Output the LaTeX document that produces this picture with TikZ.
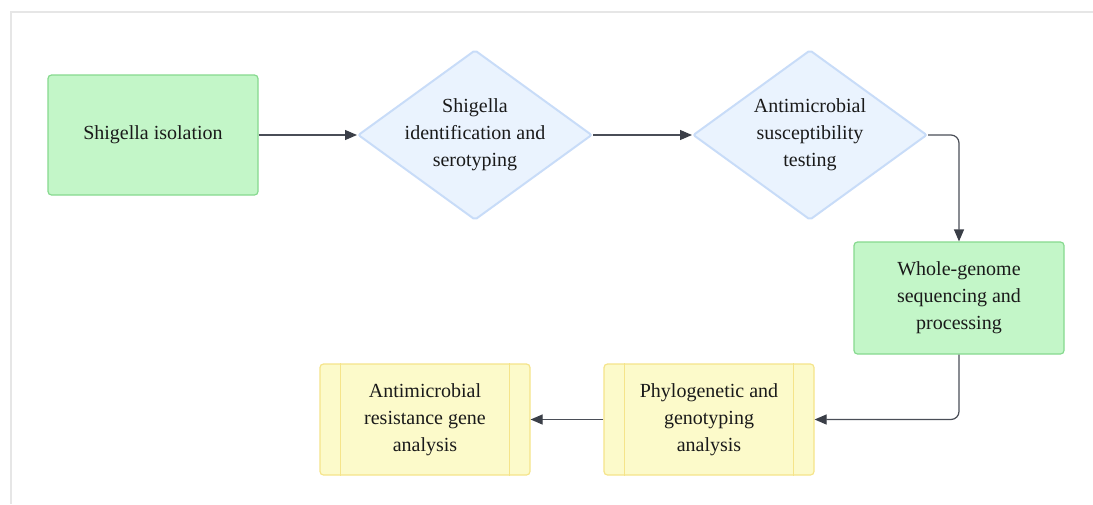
\documentclass[tikz,border=0pt]{standalone}
\usepackage{fontspec}
\setmainfont{Liberation Serif}
\usetikzlibrary{arrows.meta,shapes.geometric}
\definecolor{gfill}{HTML}{C3F6C8}
\definecolor{gline}{HTML}{86D98E}
\definecolor{bfill}{HTML}{EAF3FE}
\definecolor{bline}{HTML}{C8DCF8}
\definecolor{yfill}{HTML}{FCFACA}
\definecolor{yline}{HTML}{F5E48A}
\definecolor{conn}{HTML}{4A4E57}
\definecolor{tip}{HTML}{3A3E47}
\definecolor{frame}{HTML}{E6E6E6}
\definecolor{txt}{HTML}{1A1A1A}
\tikzset{
  lbl/.style={text=txt, font=\fontsize{20}{27}\selectfont, align=center, inner sep=0pt},
  greenbox/.style={draw=gline, fill=gfill, line width=1.2pt, rounded corners=3.5pt, minimum width=210pt, inner sep=0pt},
  yellowbox/.style={draw=yline, fill=yfill, line width=1.2pt, rounded corners=3.5pt, minimum width=210pt, minimum height=111pt, inner sep=0pt},
  decision/.style={diamond, draw=bline, fill=bfill, line width=2pt, minimum width=234pt, minimum height=170pt, inner sep=0pt, rounded corners=2pt},
  conn/.style={draw=conn, line width=1.2pt, rounded corners=8pt, -{Triangle[length=12pt,width=10pt,color=tip]}},
}
\begin{document}
\begin{tikzpicture}[x=1pt,y=-1pt]
\useasboundingbox (0,0) rectangle (1093,504);
\draw[frame, line width=2pt] (11,504) -- (11,12) -- (1093,12);

\node[greenbox, minimum height=120pt] (iso) at (153,135) {};
\node[lbl] at (iso.center) {Shigella isolation};

\node[decision] (idn) at (475,135) {};
\node[lbl] at (idn.center) {Shigella\\identification and\\serotyping};

\node[decision] (ast) at (810,135) {};
\node[lbl] at (ast.center) {Antimicrobial\\susceptibility\\testing};

\node[greenbox, minimum height=112pt] (wgs) at (959,298) {};
\node[lbl] at (wgs.center) {Whole-genome\\sequencing and\\processing};

\node[yellowbox] (phy) at (709,419.5) {};
\draw[yline, line width=1.2pt] ([xshift=21pt]phy.north west) -- ([xshift=21pt]phy.south west);
\draw[yline, line width=1.2pt] ([xshift=-21pt]phy.north east) -- ([xshift=-21pt]phy.south east);
\node[lbl] at (phy.center) {Phylogenetic and\\genotyping\\analysis};

\node[yellowbox] (amr) at (425,419.5) {};
\draw[yline, line width=1.2pt] ([xshift=21pt]amr.north west) -- ([xshift=21pt]amr.south west);
\draw[yline, line width=1.2pt] ([xshift=-21pt]amr.north east) -- ([xshift=-21pt]amr.south east);
\node[lbl] at (amr.center) {Antimicrobial\\resistance gene\\analysis};

\draw[conn] (iso.east) -- (idn.west);
\draw[conn] (idn.east) -- (ast.west);
\draw[conn] (ast.east) -| (wgs.north);
\draw[conn] (wgs.south) |- (phy.east);
\draw[conn] (phy.west) -- (amr.east);
\end{tikzpicture}
\end{document}
